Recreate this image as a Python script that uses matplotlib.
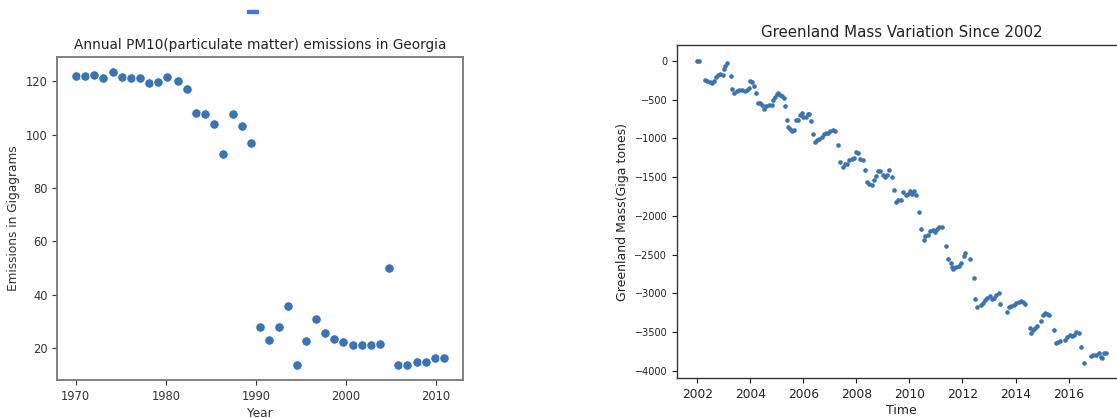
import matplotlib
matplotlib.use('Agg')
import matplotlib.pyplot as plt
from matplotlib.patches import Rectangle

# PM10 emissions in Georgia (Gigagrams)
pm_years = [1970.0, 1971.0, 1972.0, 1973.0, 1974.1, 1975.1, 1976.1, 1977.1, 1978.1, 1979.1,
            1980.1, 1981.3, 1982.3, 1983.3, 1984.3, 1985.4, 1986.4, 1987.4, 1988.4, 1989.5,
            1990.5, 1991.5, 1992.6, 1993.6, 1994.6, 1995.6, 1996.7, 1997.7, 1998.7, 1999.7,
            2000.8, 2001.8, 2002.8, 2003.8, 2004.8, 2005.8, 2006.8, 2007.9, 2008.9, 2009.9,
            2010.9]
pm_values = [121.9, 121.9, 122.2, 121.1, 123.5, 121.5, 121.2, 121.2, 119.4, 119.9,
             121.6, 120.2, 117.0, 108.2, 107.9, 103.9, 92.9, 107.8, 103.3, 96.7,
             27.8, 23.0, 27.8, 35.8, 13.8, 22.6, 30.8, 25.6, 23.4, 22.2,
             21.0, 21.0, 21.0, 21.4, 49.9, 13.5, 13.5, 14.6, 14.6, 16.4,
             16.4]

# Greenland mass variation (Giga tonnes)
gl_time = [2002.0, 2002.05, 2002.3, 2002.38, 2002.46, 2002.54, 2002.62, 2002.7, 2002.79, 2002.87,
           2002.95, 2003.01, 2003.05, 2003.1, 2003.26, 2003.32, 2003.39, 2003.48, 2003.58, 2003.68,
           2003.78, 2003.87, 2003.93, 2003.98, 2004.06, 2004.13, 2004.2, 2004.29, 2004.36, 2004.44,
           2004.52, 2004.6, 2004.7, 2004.81, 2004.86, 2004.93, 2005.0, 2005.05, 2005.12, 2005.2,
           2005.25, 2005.3, 2005.38, 2005.43, 2005.49, 2005.56, 2005.63, 2005.72, 2005.8, 2005.88,
           2005.94, 2006.0, 2006.09, 2006.16, 2006.22, 2006.28, 2006.37, 2006.45, 2006.51, 2006.6,
           2006.69, 2006.76, 2006.85, 2006.94, 2007.01, 2007.1, 2007.19, 2007.31, 2007.39, 2007.48,
           2007.57, 2007.64, 2007.73, 2007.82, 2007.89, 2007.98, 2008.07, 2008.15, 2008.23, 2008.33,
           2008.4, 2008.49, 2008.57, 2008.65, 2008.74, 2008.8, 2008.89, 2008.99, 2009.08, 2009.15,
           2009.24, 2009.34, 2009.43, 2009.49, 2009.58, 2009.68, 2009.77, 2009.85, 2009.93, 2010.02,
           2010.1, 2010.16, 2010.25, 2010.35, 2010.44, 2010.53, 2010.6, 2010.69, 2010.78, 2010.88,
           2010.97, 2011.04, 2011.13, 2011.23, 2011.38, 2011.47, 2011.55, 2011.6, 2011.66, 2011.76,
           2011.86, 2011.95, 2012.04, 2012.11, 2012.3, 2012.42, 2012.49, 2012.55, 2012.7, 2012.77,
           2012.86, 2012.93, 2013.02, 2013.12, 2013.2, 2013.27, 2013.36, 2013.42, 2013.67, 2013.74,
           2013.84, 2013.93, 2014.03, 2014.13, 2014.22, 2014.28, 2014.34, 2014.53, 2014.59, 2014.66,
           2014.75, 2014.81, 2014.97, 2015.04, 2015.1, 2015.18, 2015.26, 2015.45, 2015.51, 2015.6,
           2015.67, 2015.88, 2015.96, 2016.04, 2016.13, 2016.19, 2016.29, 2016.38, 2016.48, 2016.57,
           2016.83, 2016.92, 2017.02, 2017.15, 2017.24, 2017.27, 2017.33, 2017.4]
gl_mass = [0, 5, -240, -255, -270, -280, -255, -210, -180, -165,
           -175, -100, -60, -20, -198, -360, -413, -390, -370, -380,
           -385, -370, -350, -258, -270, -327, -413, -543, -548, -563,
           -615, -585, -570, -570, -500, -465, -430, -413, -435, -455,
           -473, -585, -757, -852, -873, -903, -894, -757, -757, -701,
           -671, -723, -723, -680, -680, -778, -938, -1045, -1024, -1002,
           -981, -938, -929, -929, -908, -895, -908, -1088, -1303, -1368,
           -1325, -1333, -1273, -1260, -1252, -1174, -1187, -1260, -1273, -1402,
           -1561, -1583, -1604, -1540, -1484, -1419, -1419, -1475, -1497, -1475,
           -1411, -1497, -1669, -1819, -1789, -1789, -1690, -1725, -1712, -1677,
           -1712, -1677, -1733, -1948, -2176, -2314, -2262, -2249, -2194, -2185,
           -2206, -2176, -2150, -2150, -2387, -2563, -2615, -2658, -2680, -2658,
           -2649, -2615, -2520, -2486, -2551, -2800, -3080, -3174, -3153, -3123,
           -3088, -3058, -3037, -3075, -3058, -3024, -3002, -3140, -3239, -3174,
           -3166, -3153, -3131, -3110, -3101, -3110, -3140, -3454, -3510, -3475,
           -3454, -3424, -3355, -3282, -3260, -3273, -3282, -3475, -3639, -3626,
           -3613, -3604, -3561, -3540, -3553, -3540, -3497, -3518, -3699, -3905,
           -3811, -3798, -3798, -3768, -3819, -3841, -3776, -3768]

dot_color = '#3a74b2'

fig = plt.figure(figsize=(11.17, 4.18), dpi=100)

# left panel
ax1 = fig.add_axes([0.0513, 0.0909, 0.3629, 0.772])
ax1.scatter(pm_years, pm_values, s=46, color=dot_color, edgecolors='white', linewidths=0.6)
ax1.set_title('Annual PM10(particulate matter) emissions in Georgia', fontsize=9.8, color='#222222')
ax1.set_xlabel('Year', fontsize=8.7, color='#333333', labelpad=3)
ax1.set_ylabel('Emissions in Gigagrams', fontsize=8.7, color='#333333')
ax1.set_xticks([1970, 1980, 1990, 2000, 2010])
ax1.set_yticks([20, 40, 60, 80, 100, 120])
ax1.tick_params(labelsize=8.3, colors='#333333', length=3.5)
for sp in ax1.spines.values():
    sp.set_color('#777777')
    sp.set_linewidth(1.3)

# right panel, runs off the edge of the screenshot
ax2 = fig.add_axes([0.6061, 0.0945, 0.402, 0.7967])
ax2.scatter(gl_time, gl_mass, s=11, color=dot_color, linewidths=0)
ax2.set_title('Greenland Mass Variation Since 2002', fontsize=10.8, color='#222222')
ax2.set_xlabel('Time', fontsize=9, color='#222222', labelpad=2)
ax2.set_ylabel('Greenland Mass(Giga tones)', fontsize=9, color='#222222')
ax2.set_xticks(range(2002, 2018, 2))
ax2.set_yticks([0, -500, -1000, -1500, -2000, -2500, -3000, -3500, -4000])
ax2.tick_params(axis='x', labelsize=8.8, colors='#222222', length=3.5)
ax2.tick_params(axis='y', labelsize=7, colors='#222222', length=3.5)
for sp in ax2.spines.values():
    sp.set_color('#333333')
    sp.set_linewidth(1.0)

# little blue mark at top of screenshot
fig.patches.append(Rectangle((247 / 1117, 1 - 12.5 / 418), 11 / 1117, 2.5 / 418,
                             transform=fig.transFigure, color='#3b78e7', figure=fig))

fig.savefig('out.png', dpi=100)
